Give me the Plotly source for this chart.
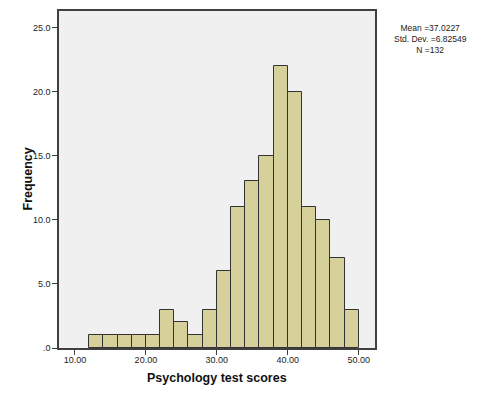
import plotly.graph_objects as go

bin_lower = [12, 14, 16, 18, 20, 22, 24, 26, 28, 30, 32, 34, 36, 38, 40, 42, 44, 46, 48]
counts = [1, 1, 1, 1, 1, 3, 2, 1, 3, 6, 11, 13, 15, 22, 20, 11, 10, 7, 3]
bin_width = 2
x_ticks = [10, 20, 30, 40, 50]
x_ticktext = ["10.00", "20.00", "30.00", "40.00", "50.00"]
y_ticks = [0, 5, 10, 15, 20, 25]
y_ticktext = [".0", "5.0", "10.0", "15.0", "20.0", "25.0"]
stats_text = "Mean =37.0227<br>Std. Dev. =6.82549<br>N =132"

fig = go.Figure()
fig.add_trace(go.Bar(
    x=[b + bin_width / 2 for b in bin_lower],
    y=counts,
    width=bin_width,
    marker=dict(color="#d6d19a", line=dict(color="#333333", width=1)),
    showlegend=False,
))

# page body has an 8px default margin; compensate
OFF = 8
W, H = 500 - OFF, 401 - OFF
L, R, T, B = 59 - OFF, 125, 11 - OFF, 53
pw, ph = W - L - R, H - T - B

axis_font = dict(family="Liberation Sans, Arial", size=9, color="#222222")
title_font = dict(family="Liberation Sans, Arial", size=12.5, color="#111111")

annotations = [
    dict(
        text=stats_text, xref="paper", yref="paper",
        x=1.0 + (430 - 375) / pw, y=1 - (39 - 11) / ph,
        xanchor="center", yanchor="middle", align="center", showarrow=False,
        borderpad=0,
        font=dict(family="Liberation Sans, Arial", size=8.5, color="#222222"),
    ),
    dict(
        text="<b>Psychology test scores</b>", xref="paper", yref="paper",
        x=0.5, y=-(378 - 348) / ph,
        xanchor="center", yanchor="middle", showarrow=False, font=title_font,
    ),
    dict(
        text="<b>Frequency</b>", xref="paper", yref="paper",
        x=-(59 - 27) / pw, y=0.5, textangle=-90,
        xanchor="center", yanchor="middle", showarrow=False, font=title_font,
    ),
]

fig.update_layout(
    width=W, height=H,
    margin=dict(l=L, r=R, t=T, b=B),
    paper_bgcolor="white",
    plot_bgcolor="#f0f0f0",
    bargap=0,
    font=dict(family="Liberation Sans, Arial", color="#111111"),
    xaxis=dict(
        range=[7.75, 52.3], automargin=False,
        tickvals=x_ticks, ticktext=x_ticktext,
        ticks="outside", ticklen=5, tickcolor="#404040", ticklabelstandoff=-3,
        showline=True, mirror=True, linecolor="#404040", linewidth=1.5,
        showgrid=False, zeroline=False,
        tickfont=axis_font,
    ),
    yaxis=dict(
        range=[0, 26.3], automargin=False,
        tickvals=y_ticks, ticktext=y_ticktext,
        ticks="outside", ticklen=5, tickcolor="#404040",
        showline=True, mirror=True, linecolor="#404040", linewidth=1.5,
        showgrid=False, zeroline=False,
        tickfont=axis_font,
    ),
    annotations=annotations,
)

fig.write_html("out.html")
